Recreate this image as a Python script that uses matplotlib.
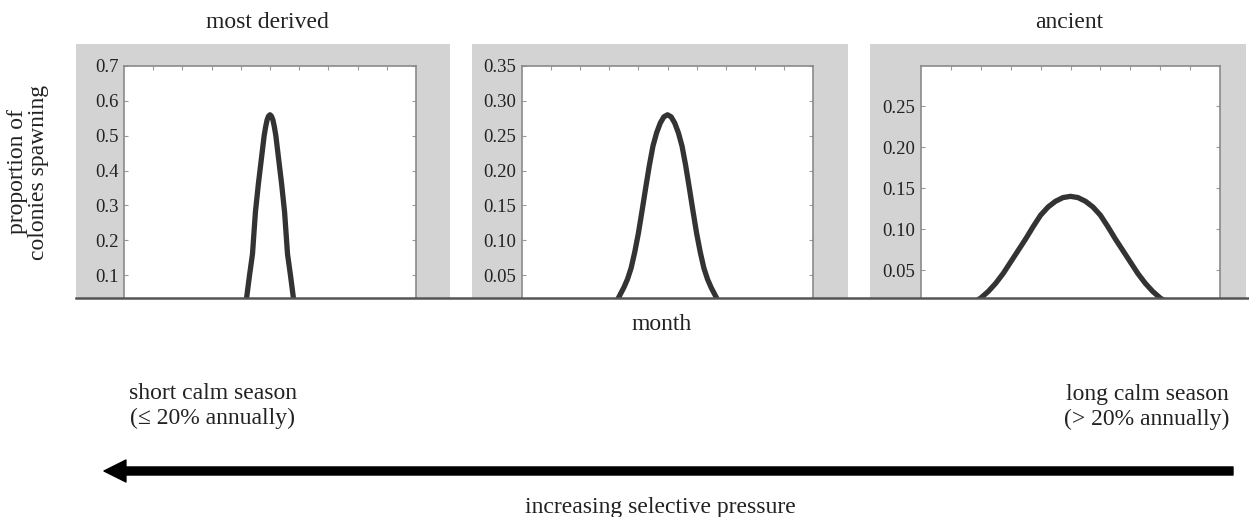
import numpy as np
import matplotlib
matplotlib.use("Agg")
import matplotlib.pyplot as plt
from matplotlib.patches import Rectangle, FancyArrowPatch
from matplotlib.lines import Line2D

plt.rcParams['font.family'] = ['Liberation Serif', 'DejaVu Serif']

# datos (mes en escala 0-10)
month_derived = [4.0, 4.1, 4.2, 4.3, 4.4, 4.5, 4.6, 4.7, 4.8, 4.85, 4.9, 4.95, 5.0,
                 5.05, 5.1, 5.15, 5.2, 5.3, 5.4, 5.5, 5.6, 5.7, 5.8, 5.9, 6.0]
spawn_derived = [0.0, 0.01, 0.035, 0.10, 0.16, 0.28, 0.36, 0.43, 0.50, 0.525, 0.545, 0.556, 0.56,
                 0.556, 0.545, 0.525, 0.50, 0.43, 0.36, 0.28, 0.16, 0.10, 0.035, 0.01, 0.0]

month_middle = [3.0, 3.25, 3.5, 3.625, 3.75, 3.875, 4.0, 4.125, 4.25, 4.375, 4.5, 4.625, 4.75, 4.875, 5.0,
                5.125, 5.25, 5.375, 5.5, 5.625, 5.75, 5.875, 6.0, 6.125, 6.25, 6.375, 6.5, 6.75, 7.0]
spawn_middle = [0.003, 0.012, 0.032, 0.044, 0.06, 0.083, 0.11, 0.142, 0.175, 0.207, 0.235, 0.254, 0.268, 0.277, 0.28,
                0.277, 0.268, 0.254, 0.235, 0.207, 0.175, 0.142, 0.11, 0.083, 0.06, 0.044, 0.032, 0.012, 0.003]

month_ancient = [1.5, 1.75, 2.0, 2.25, 2.5, 2.75, 3.0, 3.25, 3.5, 3.75, 4.0, 4.25, 4.5, 4.75, 5.0,
                 5.25, 5.5, 5.75, 6.0, 6.25, 6.5, 6.75, 7.0, 7.25, 7.5, 7.75, 8.0, 8.25, 8.5]
spawn_ancient = [0.006, 0.010, 0.016, 0.024, 0.034, 0.046, 0.060, 0.074, 0.088, 0.103, 0.117, 0.127, 0.134, 0.1385, 0.140,
                 0.1385, 0.134, 0.127, 0.117, 0.103, 0.088, 0.074, 0.060, 0.046, 0.034, 0.024, 0.016, 0.010, 0.006]

yticks_derived = [0.1, 0.2, 0.3, 0.4, 0.5, 0.6, 0.7]
yticks_middle = [0.05, 0.10, 0.15, 0.20, 0.25, 0.30, 0.35]
yticks_ancient = [0.05, 0.10, 0.15, 0.20, 0.25]

W, H = 1249., 517.
fig = plt.figure(figsize=(12.49, 5.17), dpi=100)

# paneles: (x gris izq, x gris der, x ejes izq, x ejes der), en pixeles
panels = [
    ((76, 450, 124, 416), month_derived, spawn_derived, yticks_derived, '%.1f', (0.034, 0.7)),
    ((472, 848, 522, 813), month_middle, spawn_middle, yticks_middle, '%.2f', (0.017, 0.35)),
    ((870, 1246, 921, 1220), month_ancient, spawn_ancient, yticks_ancient, '%.2f', (0.016, 0.299)),
]

y_top_grey, y_top_ax, y_bot = 44, 66, 298

for (g0, g1, a0, a1), xs, ys, yt, fmt, ylim in panels:
    fig.add_artist(Rectangle((g0 / W, 1 - y_bot / H), (g1 - g0) / W, (y_bot - y_top_grey) / H,
                             transform=fig.transFigure, facecolor='#d3d3d3', edgecolor='none', zorder=0))
    ax = fig.add_axes([a0 / W, 1 - y_bot / H, (a1 - a0) / W, (y_bot - y_top_ax) / H])
    ax.set_zorder(1)
    ax.plot(xs, ys, color='#333333', lw=3.8, solid_capstyle='round', solid_joinstyle='round')
    ax.set_xlim(0, 10)
    ax.set_ylim(*ylim)
    ax.set_xticks(np.arange(1, 10))
    ax.set_yticks(yt)
    ax.set_yticklabels([fmt % v for v in yt])
    ax.tick_params(direction='in', length=3, width=0.8, color='#999999',
                   top=True, bottom=False, left=True, right=True,
                   labelbottom=False, labelsize=13.5, labelcolor='#222222', pad=4)
    for s in ['left', 'right', 'top']:
        ax.spines[s].set_color('#8a8a8a')
        ax.spines[s].set_linewidth(1.2)
    ax.spines['bottom'].set_visible(False)

# linea base comun
fig.add_artist(Line2D([76 / W, 1.0], [1 - y_bot / H, 1 - y_bot / H], transform=fig.transFigure,
                      color='#555555', lw=1.8, zorder=5))

txt = dict(fontsize=17, color='#222222', transform=fig.transFigure)
fig.text(267 / W, 1 - 22 / H, 'most derived', ha='center', va='center', **txt)
fig.text(1069 / W, 1 - 22 / H, 'ancient', ha='center', va='center', **txt)
fig.text(28 / W, 1 - 172 / H, 'proportion of\ncolonies spawning', ha='center', va='center',
         rotation=90, linespacing=1.0, **txt)
fig.text(662 / W, 1 - 324 / H, 'month', ha='center', va='center', **txt)
fig.text(213 / W, 1 - 406 / H, 'short calm season\n(\u2264 20% annually)', ha='center', va='center',
         linespacing=1.25, **txt)
fig.text(1229 / W, 1 - 407 / H, 'long calm season\n(> 20% annually)', ha='right', va='center',
         multialignment='right', linespacing=1.25, **txt)
fig.text(660 / W, 1 - 507 / H, 'increasing selective pressure', ha='center', va='center', **txt)

# flecha de presion selectiva
arrow = FancyArrowPatch((1233 / W, 1 - 471 / H), (104 / W, 1 - 471 / H), transform=fig.transFigure,
                        arrowstyle='simple,head_length=15.8,head_width=15.8,tail_width=5.8',
                        mutation_scale=1, color='black', shrinkA=0, shrinkB=0)
fig.add_artist(arrow)

fig.savefig('out.png', dpi=100)
